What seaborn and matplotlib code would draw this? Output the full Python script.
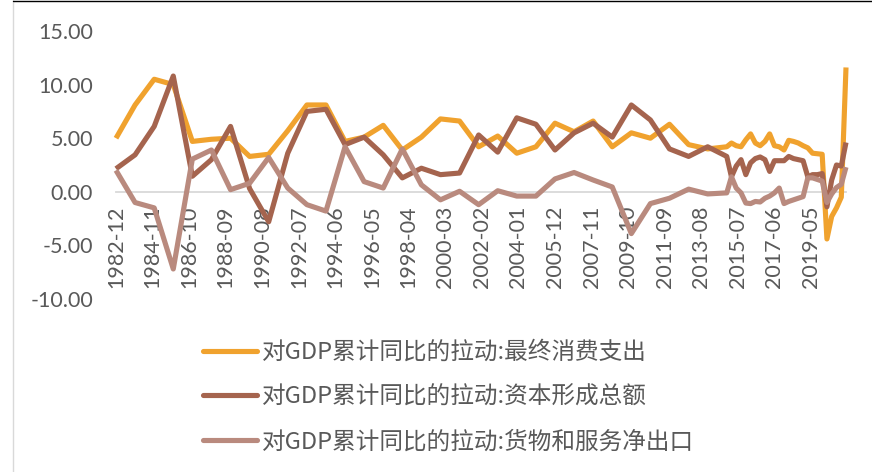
import matplotlib
matplotlib.use("Agg")
import matplotlib.pyplot as plt
from matplotlib.lines import Line2D
import seaborn as sns
import pandas as pd

# ---------------- data ----------------
series_names = [
    "对GDP累计同比的拉动:最终消费支出",
    "对GDP累计同比的拉动:资本形成总额",
    "对GDP累计同比的拉动:货物和服务净出口",
]
annual_years = list(range(1982, 2015))          # year-end observations
quarter_periods = [f"{y}-{m:02d}" for y in range(2015, 2022) for m in (3, 6, 9, 12)][:25]
period_labels = [f"{y}-12" for y in annual_years] + quarter_periods

consumption = [5.0, 8.1, 10.5, 10.0, 4.7, 4.9, 5.0, 3.3, 3.5, 5.7, 8.1, 8.1, 4.7,
               5.1, 6.2, 3.9, 5.1, 6.8, 6.6, 4.2, 5.2, 3.6, 4.2, 6.4, 5.6, 6.6,
               4.2, 5.5, 5.0, 6.3, 4.4, 4.0, 4.2,
               4.55, 4.3, 4.2, 4.85, 5.4, 4.55, 4.3, 4.7, 5.4, 4.3, 4.2, 3.9,
               4.8, 4.7, 4.55, 4.3, 4.1, 3.6, 3.55, 3.5, -4.4, -2.3, -1.5, -0.5, 11.6]
capital = [2.15, 3.45, 6.1, 10.8, 1.45, 3.0, 6.1, 0.3, -2.8, 3.6, 7.5, 7.7, 4.4,
           5.1, 3.45, 1.3, 2.2, 1.6, 1.75, 5.3, 3.7, 6.9, 6.3, 3.9, 5.5, 6.4,
           5.1, 8.1, 6.7, 4.0, 3.3, 4.2, 3.3,
           1.4, 2.4, 3.0, 1.6, 2.7, 3.1, 3.25, 3.0, 1.9, 2.9, 2.9, 2.9,
           3.3, 3.1, 3.0, 2.9, 1.4, 1.6, 1.6, 1.7, -1.4, 1.1, 2.5, 2.4, 4.6]
net_exports = [2.0, -1.0, -1.5, -7.2, 3.05, 3.9, 0.2, 0.8, 3.2, 0.35, -1.2, -1.8, 4.2,
               0.95, 0.35, 4.0, 0.65, -0.75, 0.05, -1.2, 0.1, -0.4, -0.4, 1.2, 1.8, 1.1,
               0.45, -3.9, -1.1, -0.6, 0.25, -0.2, -0.1,
               1.4, 0.35, -0.1, -1.05, -1.1, -0.9, -0.95, -0.6, -0.4, -0.1, 0.35, -1.1,
               -0.9, -0.75, -0.6, -0.45, 1.3, 1.3, 1.15, 1.0, -1.0, -0.2, 0.4, 0.7, 2.3]

tick_labels = ["1982-12", "1984-11", "1986-10", "1988-09", "1990-08", "1992-07",
               "1994-06", "1996-05", "1998-04", "2000-03", "2002-02", "2004-01",
               "2005-12", "2007-11", "2009-10", "2011-09", "2013-08", "2015-07",
               "2017-06", "2019-05"]
y_ticks = [-10, -5, 0, 5, 10, 15]

colors = ["#F0A22E", "#A5644E", "#B98A7E"]
text_color = "#595959"

# ---------------- build frame ----------------
month_end = pd.offsets.MonthEnd(0)
dates = [pd.Timestamp(p + "-01") + month_end for p in period_labels]
df = pd.concat([
    pd.DataFrame({"date": dates, "value": vals, "series": name})
    for name, vals in zip(series_names, [consumption, capital, net_exports])
], ignore_index=True)

# ---------------- plot ----------------
sns.set_theme(style="white")
plt.rcParams["font.family"] = ["Lato", "DejaVu Sans"]

W, H = 872, 472
fig = plt.figure(figsize=(W / 100, H / 100), dpi=100)
x0, x1 = 116, 846
y_top, y_bot = 31, 299
ax = fig.add_axes([x0 / W, 1 - y_bot / H, (x1 - x0) / W, (y_bot - y_top) / H])

sns.lineplot(data=df, x="date", y="value", hue="series", hue_order=series_names,
             palette=colors, linewidth=3.7, ax=ax, legend=False)
for ln in ax.lines:
    ln.set_solid_joinstyle("round")
    ln.set_solid_capstyle("butt")
    ln.set_clip_on(False)

ax.set_xlim(pd.Timestamp("1982-12-31"), pd.Timestamp("2021-03-31"))
ax.set_ylim(-10, 15)
ax.set_yticks(y_ticks)
ax.set_yticklabels([f"{v:.2f}" for v in y_ticks])

tick_dates = [pd.Timestamp(t + "-01") + month_end for t in tick_labels]
ax.set_xticks(tick_dates)
ax.set_xticklabels(tick_labels)

for s in ["top", "right", "left"]:
    ax.spines[s].set_visible(False)
ax.spines["bottom"].set_position(("data", 0))
ax.spines["bottom"].set_color("#D9D9D9")
ax.spines["bottom"].set_linewidth(1.3)
ax.spines["bottom"].set_zorder(0.5)

ax.tick_params(axis="y", length=0, pad=16.5, labelsize=15.5, labelcolor=text_color)
ax.tick_params(axis="x", length=0, pad=10, labelsize=15.5, labelcolor=text_color,
               labelrotation=90)
for lbl in ax.get_xticklabels():
    lbl.set_rotation(90)
    lbl.set_ha("center")
    lbl.set_va("top")
ax.set_xlabel("")
ax.set_ylabel("")
ax.grid(False)

# legend
handles = [Line2D([0], [0], color=c, lw=3.7, solid_capstyle="round") for c in colors]
leg = fig.legend(handles, series_names, loc="upper left",
                 bbox_to_anchor=(203 / W, 1 - 341 / H), frameon=False,
                 borderpad=0, borderaxespad=0, handlelength=2.3, handletextpad=0.18,
                 labelspacing=0.92,
                 prop={"family": ["Noto Sans CJK SC", "DejaVu Sans"], "size": 17})
for t in leg.get_texts():
    t.set_color(text_color)

# chart border fragments
fig.add_artist(Line2D([13 / W, 13 / W], [0, 1], transform=fig.transFigure,
                      color="#D9D9D9", lw=1))
fig.add_artist(Line2D([13 / W, 1], [1 - 0.5 / H, 1 - 0.5 / H], transform=fig.transFigure,
                      color="#000000", lw=1))

fig.savefig("out.png", dpi=100)
